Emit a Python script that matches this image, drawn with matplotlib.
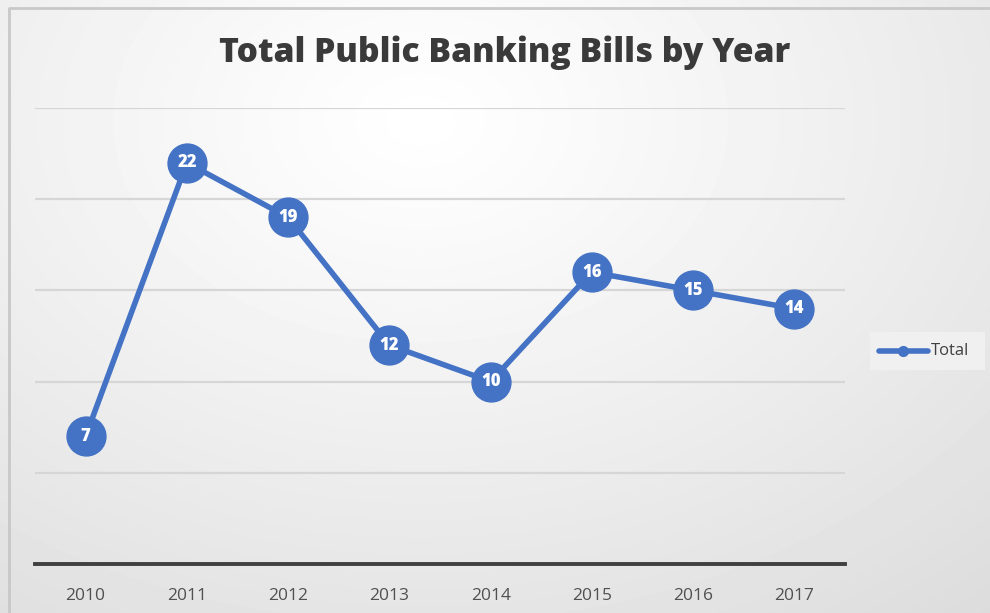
import numpy as np
import matplotlib
matplotlib.use("Agg")
import matplotlib.pyplot as plt
from matplotlib.lines import Line2D

years = ["2010", "2011", "2012", "2013", "2014", "2015", "2016", "2017"]
totals = [7, 22, 19, 12, 10, 16, 15, 14]
title = "Total Public Banking Bills by Year"
series_name = "Total"

BLUE = "#4472C4"
W, H = 990, 613
fig = plt.figure(figsize=(W / 100, H / 100), dpi=100)

# radial background shading
bg = fig.add_axes([0, 0, 1, 1], zorder=0)
yy, xx = np.mgrid[0:H, 0:W]
cx, cy = 420, 120
r = np.sqrt(((xx - cx) / 900.0) ** 2 + ((yy - cy) / 650.0) ** 2)
shade = 1.0 - 0.14 * np.clip(r, 0, 1) ** 1.1
bg.imshow(shade, cmap="gray", vmin=0, vmax=1, extent=[0, W, H, 0], aspect="auto")
bg.set_xlim(0, W)
bg.set_ylim(H, 0)
bg.axis("off")
# chart frame (top and left edges)
bg.add_line(Line2D([9, 9, W + 5], [H + 5, 8, 8], color="#c8c8c8", linewidth=2))

ax = fig.add_axes([35 / W, 1 - 564 / H, 810 / W, 456 / H], zorder=1)
ax.patch.set_alpha(0)
x = np.arange(len(years))
ax.set_xlim(-0.5, len(years) - 0.5)
ax.set_ylim(0, 25)
ax.set_yticks([5, 10, 15, 20, 25])
ax.yaxis.grid(True, color="#d6d6d6", linewidth=1.6)
ax.set_axisbelow(True)
ax.tick_params(axis="y", left=False, labelleft=False)
ax.set_xticks(x)
ax.set_xticklabels(years, fontsize=12.5, color="#505050", family="Open Sans")
ax.tick_params(axis="x", length=0, pad=17)
for s in ["top", "right", "left"]:
    ax.spines[s].set_visible(False)
ax.spines["bottom"].set_color("#404040")
ax.spines["bottom"].set_linewidth(2.8)

ax.plot(x, totals, color=BLUE, linewidth=4, marker="o", markersize=28,
        markerfacecolor=BLUE, markeredgecolor=BLUE, clip_on=False, zorder=3)
for xi, v in zip(x, totals):
    ax.text(xi, v, str(v), color="white", fontsize=12, fontweight="heavy",
            family="Open Sans", ha="center", va="center", zorder=4)

fig.text(505 / W, 1 - 53 / H, title, fontsize=24.2, fontweight="heavy",
         color="#3a3a3a", family="Open Sans", ha="center", va="center")

# legend
leg = fig.add_axes([870 / W, 1 - 370 / H, 115 / W, 38 / H], zorder=2)
leg.set_xlim(870, 985)
leg.set_ylim(370, 332)
leg.set_facecolor("#f0f0f0")
for s in leg.spines.values():
    s.set_visible(False)
leg.set_xticks([])
leg.set_yticks([])
leg.add_line(Line2D([879, 928], [351, 351], color=BLUE, linewidth=4,
                    solid_capstyle="round"))
leg.plot([903], [351], marker="o", markersize=7, color=BLUE)
leg.text(931, 351, series_name, fontsize=12, color="#404040",
         family="Open Sans", ha="left", va="center")

fig.savefig("out.png", dpi=100)
